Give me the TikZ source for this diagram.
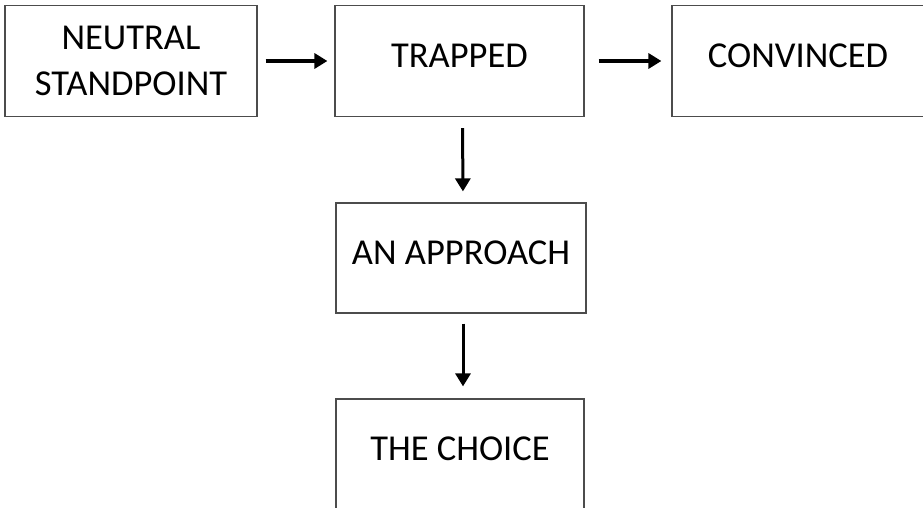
\documentclass[tikz,border=0pt]{standalone}
\usepackage{fontspec}
\setmainfont{Carlito}
\usetikzlibrary{arrows.meta}

\tikzset{
    stage/.style={rectangle, draw=black!70, line width=1.2pt, fill=white,
        minimum width=249pt, minimum height=111pt, inner sep=0pt,
        align=center, font=\fontsize{36.5}{46}\selectfont},
    raised/.style={text height=24pt, text depth=11pt},
    flow/.style={line width=3.6pt, -{Triangle[length=13pt, width=15pt]}}
}

\begin{document}
\begin{tikzpicture}[x=1pt, y=-1pt]
    \useasboundingbox (0,0) rectangle (923,508);

    % Draw nodes
    \node[stage, minimum width=252pt] (neutral) at (131,61) {NEUTRAL\\STANDPOINT};
    \node[stage, raised] (trapped) at (459.5,61) {TRAPPED};
    \node[stage, raised, minimum width=252pt] (convinced) at (798,61) {CONVINCED};
    \node[stage, raised, minimum width=250pt, minimum height=110pt] (approach) at (461,258) {AN APPROACH};
    \node[stage, raised, minimum width=248pt, minimum height=110pt] (choice) at (460,454) {THE CHOICE};

    % Draw connections
    \draw[flow, shorten <=8pt, shorten >=7pt] (neutral) -- (trapped);
    \draw[flow, shorten <=14pt, shorten >=10pt] (trapped) -- (convinced);
    \draw[flow, line width=3pt, shorten <=11pt, shorten >=11pt] ([xshift=3pt]trapped.south) -- ([xshift=2pt]approach.north);
    \draw[flow, line width=3pt, shorten <=10pt, shorten >=12pt] ([xshift=2pt]approach.south) -- ([xshift=3pt]choice.north);
\end{tikzpicture}
\end{document}
